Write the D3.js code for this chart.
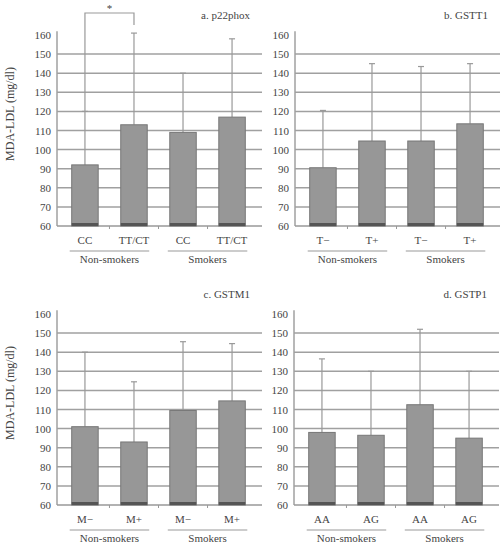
<!DOCTYPE html>
<html>
<head>
<meta charset="utf-8">
<script src="https://cdn.jsdelivr.net/npm/d3@7"></script>
<style>
  body { margin: 0; background: #fff; }
  svg text { font-family: "Liberation Sans Narrow", "Liberation Serif", sans-serif; fill: #444; }
</style>
</head>
<body>
<div id="chart"></div>
<script>
// genotype panels, MDA-LDL means with SD

var yTicks = [60, 70, 80, 90, 100, 110, 120, 130, 140, 150, 160];
var groups = ["Non-smokers", "Smokers"];

var titles = ["a. p22phox", "b. GSTT1", "c. GSTM1", "d. GSTP1"];
var catsA = ["CC", "TT/CT", "CC", "TT/CT"];
var catsB = ["T\u2212", "T+", "T\u2212", "T+"];
var catsC = ["M\u2212", "M+", "M\u2212", "M+"];
var catsD = ["AA", "AG", "AA", "AG"];

var meanA = [92, 113, 109, 117];
var meanB = [90.5, 104.5, 104.5, 113.5];
var meanC = [101, 93, 109.5, 114.5];
var meanD = [98, 96.5, 112.5, 95];

var upperA = [120, 161, 140, 158];
var upperB = [120.5, 145, 143.5, 145];
var upperC = [140, 124.5, 145.5, 144.5];
var upperD = [136.5, 130, 152, 130];

var chart = {
    param: {
	width: 500,
	height: 550,
	plotW: 203,
	plotH: 191,
	bar: "#979797",
	grid: "#a0a0a0"
    },

    init: function(){
	var param = chart.param;
	var svg = d3.select("#chart").append("svg")
	    .attr("width", param.width)
	    .attr("height", param.height);

	var panels = [
	    {x: 57, y: 226, title: titles[0], cats: catsA, mean: meanA, upper: upperA, ylab: true, sig: true},
	    {x: 295, y: 226, title: titles[1], cats: catsB, mean: meanB, upper: upperB},
	    {x: 57, y: 505, title: titles[2], cats: catsC, mean: meanC, upper: upperC, ylab: true},
	    {x: 294, y: 505, title: titles[3], cats: catsD, mean: meanD, upper: upperD}
	];
	panels.forEach(function(p){ chart.panel(svg, p); });
    },

    panel: function(svg, p){
	var param = chart.param;
	var g = svg.append("g");
	var x = d3.scaleBand().domain(d3.range(4))
	    .range([p.x, p.x + param.plotW]).paddingInner(0.46).paddingOuter(0.3);
	var y = d3.scaleLinear().domain([60, 160]).range([p.y, p.y - param.plotH]);
	var step = x.step();

	// grid
	g.selectAll(".grid").data(yTicks.slice(1, 10)).enter().append("line")
	    .attr("x1", p.x).attr("x2", p.x + param.plotW + 2)
	    .attr("y1", d => y(d)).attr("y2", d => y(d))
	    .attr("stroke", param.grid).attr("stroke-width", 1.5);

	// axes
	var ax = d3.axisLeft(y).tickValues(yTicks).tickSize(0).tickPadding(6);
	var ga = g.append("g").attr("transform", "translate(" + p.x + ",0)").call(ax);
	ga.select(".domain").remove();
	ga.selectAll("text").style("font-size", "11px");
	g.append("line").attr("x1", p.x).attr("x2", p.x)
	    .attr("y1", p.y).attr("y2", y(162))
	    .attr("stroke", param.grid).attr("stroke-width", 1.5);
	g.append("line").attr("x1", p.x).attr("x2", p.x + param.plotW + 2)
	    .attr("y1", p.y).attr("y2", p.y)
	    .attr("stroke", "#999").attr("stroke-width", 1.5);
	g.selectAll(".xt").data([1, 2, 3]).enter().append("line")
	    .attr("x1", d => x(d) - step * 0.23).attr("x2", d => x(d) - step * 0.23)
	    .attr("y1", p.y).attr("y2", p.y + 3)
	    .attr("stroke", "#999");

	// error bars
	var cap = 3;
	p.upper.forEach(function(u, i){
	    var cx = x(i) + x.bandwidth() / 2;
	    g.append("line").attr("x1", cx).attr("x2", cx)
		.attr("y1", y(p.mean[i])).attr("y2", y(u))
		.attr("stroke", "#999").attr("stroke-width", 1.2);
	    g.append("line").attr("x1", cx - cap).attr("x2", cx + cap)
		.attr("y1", y(u)).attr("y2", y(u))
		.attr("stroke", "#999").attr("stroke-width", 1.2);
	});

	// bars
	g.selectAll(".bar").data(p.mean).enter().append("rect")
	    .attr("x", (d, i) => x(i)).attr("width", x.bandwidth())
	    .attr("y", d => y(d)).attr("height", d => p.y - y(d))
	    .attr("fill", param.bar).attr("stroke", "#777").attr("stroke-width", 1);
	g.selectAll(".base").data(p.mean).enter().append("rect")
	    .attr("x", (d, i) => x(i)).attr("width", x.bandwidth())
	    .attr("y", p.y - 3).attr("height", 3)
	    .attr("fill", "#555");

	// category labels
	g.selectAll(".cat").data(p.cats).enter().append("text")
	    .attr("x", (d, i) => x(i) + x.bandwidth() / 2).attr("y", p.y + 18)
	    .attr("text-anchor", "middle").style("font-size", "11px")
	    .text(d => d);
	groups.forEach(function(name, k){
	    var x0 = x(2 * k) - 2, x1 = x(2 * k + 1) + x.bandwidth() + 2;
	    g.append("line").attr("x1", x0).attr("x2", x1)
		.attr("y1", p.y + 25).attr("y2", p.y + 25)
		.attr("stroke", "#999").attr("stroke-width", 1.2);
	    g.append("text").attr("x", (x0 + x1) / 2).attr("y", p.y + 37)
		.attr("text-anchor", "middle").style("font-size", "11px")
		.text(name);
	});

	// title
	g.append("text").attr("x", p.x + param.plotW - 10).attr("y", y(160) - 16)
	    .attr("text-anchor", "end").style("font-size", "11px")
	    .text(p.title);

	if(p.ylab){
	    g.append("text")
		.attr("transform", "translate(14," + (p.y - 112) + ") rotate(-90)")
		.attr("text-anchor", "middle").style("font-size", "12px")
		.text("MDA-LDL (mg/dl)");
	}

	if(p.sig){
	    var c0 = x(0) + x.bandwidth() / 2, c1 = x(1) + x.bandwidth() / 2;
	    var top = 13;
	    g.append("path")
		.attr("d", "M" + c0 + "," + y(p.upper[0]) + "V" + top + "H" + c1 + "V" + (top + 12))
		.attr("fill", "none").attr("stroke", "#999").attr("stroke-width", 1.2);
	    g.append("text").attr("x", (c0 + c1) / 2).attr("y", top - 1)
		.attr("text-anchor", "middle").style("font-size", "11px").text("*");
	}
    }
};

chart.init();
</script>
</body>
</html>
